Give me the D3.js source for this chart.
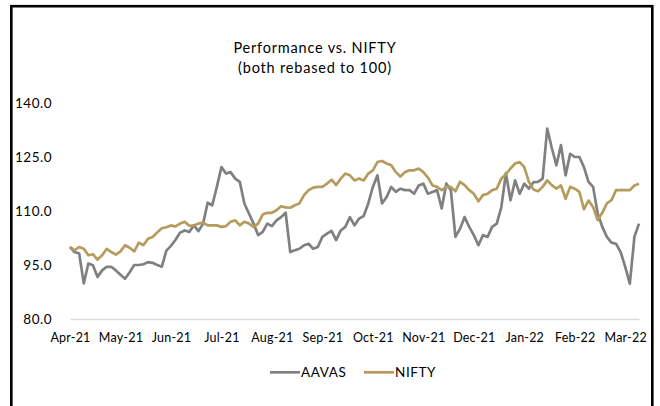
<!DOCTYPE html>
<html>
<head>
<meta charset="utf-8">
<script src="https://cdn.jsdelivr.net/npm/d3@7"></script>
<style>
  html, body { margin: 0; padding: 0; background: #ffffff; }
  svg { display: block; }
  text { font-family: "Lato", "Noto Sans", sans-serif; fill: #000; }
</style>
</head>
<body>
<div id="chart"></div>
<script>
// ---- data (sampled every 2 trading days, Apr-21 .. Mar-22) ----
const seriesNames = ["AAVAS", "NIFTY"];
const monthLabels = ["Apr-21","May-21","Jun-21","Jul-21","Aug-21","Sep-21","Oct-21","Nov-21","Dec-21","Jan-22","Feb-22","Mar-22"];
const yTicks = [80, 95, 110, 125, 140];
const labelEvery = 22;        // trading days between month labels
const sampleStep = 2;         // trading days between samples
const totalDays = 248;

const aavas = [
  100.0, 98.6, 98.2, 89.9, 95.4, 94.9, 91.7, 93.5, 94.5, 94.5,
  93.5, 92.3, 91.2, 93.0, 95.0, 95.0, 95.2, 95.8, 95.6, 95.0,
  94.5, 99.0, 100.3, 102.0, 104.0, 104.6, 104.2, 106.0, 104.4, 106.5,
  112.3, 111.6, 116.7, 122.2, 120.4, 120.8, 119.0, 118.1, 112.1, 109.3,
  106.5, 103.3, 104.2, 106.5, 105.8, 107.4, 108.3, 109.5, 98.6, 99.1,
  99.5, 100.5, 100.9, 99.5, 100.0, 102.8, 103.7, 104.5, 101.9, 104.6,
  105.6, 108.3, 106.0, 107.9, 108.6, 112.1, 116.7, 119.9, 112.1, 113.9,
  116.7, 115.3, 116.2, 115.8, 115.8, 114.8, 117.1, 117.6, 114.8, 115.3,
  115.8, 110.7, 117.6, 115.8, 102.8, 105.1, 108.3, 105.6, 103.3, 100.5,
  103.3, 102.8, 105.6, 106.5, 111.1, 120.5, 113.0, 118.5, 114.8, 117.6,
  116.2, 118.0, 118.1, 119.0, 132.9, 127.5, 122.7, 128.3, 119.9, 125.9,
  125.0, 125.0, 122.2, 118.1, 116.7, 109.3, 105.6, 102.8, 101.2, 100.9,
  98.6, 94.5, 89.8, 102.8, 106.5
];
const nifty = [
  100.0, 99.1, 100.0, 99.5, 97.7, 98.0, 96.5, 97.7, 99.5, 98.6,
  97.9, 98.8, 100.5, 99.8, 98.8, 101.2, 100.5, 102.3, 102.8, 104.0,
  105.2, 105.5, 106.0, 105.7, 106.5, 107.0, 105.9, 106.0, 106.5, 106.8,
  106.0, 106.0, 106.0, 105.6, 105.8, 107.0, 107.4, 106.0, 107.0, 106.5,
  105.6, 106.5, 109.0, 109.5, 109.5, 110.2, 111.3, 111.0, 110.9, 111.6,
  112.1, 114.4, 115.8, 116.5, 116.7, 116.7, 117.6, 118.7, 117.2, 119.0,
  120.4, 119.9, 118.5, 119.0, 118.5, 120.4, 121.3, 123.6, 123.9, 123.2,
  122.7, 120.8, 119.6, 120.8, 121.3, 121.3, 121.8, 120.8, 119.3, 117.1,
  116.7, 115.8, 116.7, 116.7, 115.5, 118.1, 117.2, 115.8, 114.8, 112.7,
  114.4, 114.8, 115.8, 116.2, 119.0, 120.2, 121.8, 123.2, 123.6, 122.2,
  118.1, 116.0, 115.5, 116.7, 118.5, 117.2, 116.2, 117.1, 113.4, 116.7,
  116.2, 115.3, 110.5, 112.9, 111.1, 107.5, 109.5, 112.1, 113.0, 115.8,
  115.8, 115.8, 115.8, 117.1, 117.6
];
const colors = ["#808080", "#B69B5F"];

// ---- chart ----
const W = 660, H = 406;
const FONT = "Lato, 'Noto Sans', sans-serif";
const svg = d3.select("#chart").append("svg").attr("width", W).attr("height", H);

// outer frame
svg.append("rect")
  .attr("x", 11.3).attr("y", 6.2)
  .attr("width", 641).attr("height", 420)
  .attr("fill", "none").attr("stroke", "#000").attr("stroke-width", 2.6);

const x = d3.scaleLinear().domain([0, totalDays]).range([70, 639]);
const y = d3.scaleLinear().domain([80, 140]).range([319, 103]);

// title
const title = svg.append("text").attr("text-anchor", "middle")
  .style("font-size", "14.5px").style("letter-spacing", "0.8px");
title.append("tspan").attr("x", 315).attr("y", 52.5).text("Performance vs. NIFTY");
title.append("tspan").attr("x", 315).attr("y", 72.5).text("(both rebased to 100)");

// y axis labels
const yAxis = d3.axisLeft(y).tickValues(yTicks).tickFormat(d3.format(".1f")).tickSize(0).tickPadding(0);
const gy = svg.append("g").attr("transform", "translate(52,0)").call(yAxis);
gy.select(".domain").remove();
gy.selectAll("text").style("font-size", "13.5px").style("letter-spacing", "0.5px")
  .style("font-family", FONT).attr("fill", "#000");

// x axis (category line at 80)
const tickIdx = monthLabels.map((m, i) => i * labelEvery);
const xAxis = d3.axisBottom(x).tickValues(tickIdx).tickFormat((d, i) => monthLabels[i]).tickSize(0).tickPadding(14);
const gx = svg.append("g").attr("transform", `translate(0,${y(80)})`).call(xAxis);
gx.select(".domain").attr("stroke", "#d9d9d9").attr("stroke-width", 1.6);
gx.selectAll("text").style("font-size", "12.5px").style("letter-spacing", "0.2px")
  .style("font-family", FONT).attr("fill", "#000");

// lines
const line = d3.line().x((d, i) => x(i * sampleStep)).y(d => y(d));
[aavas, nifty].forEach((vals, k) => {
  svg.append("path").datum(vals)
    .attr("fill", "none").attr("stroke", colors[k])
    .attr("stroke-width", 2.7).attr("stroke-linejoin", "round")
    .attr("d", line);
});

// legend
const legend = [{ name: seriesNames[0], color: colors[0], x: 270 }, { name: seriesNames[1], color: colors[1], x: 364 }];
legend.forEach(l => {
  svg.append("line").attr("x1", l.x).attr("x2", l.x + 30).attr("y1", 372.3).attr("y2", 372.3)
    .attr("stroke", l.color).attr("stroke-width", 2.7);
  svg.append("text").attr("x", l.x + 31).attr("y", 377)
    .style("font-size", "13.5px").style("letter-spacing", "0.6px").text(l.name);
});
</script>
</body>
</html>
